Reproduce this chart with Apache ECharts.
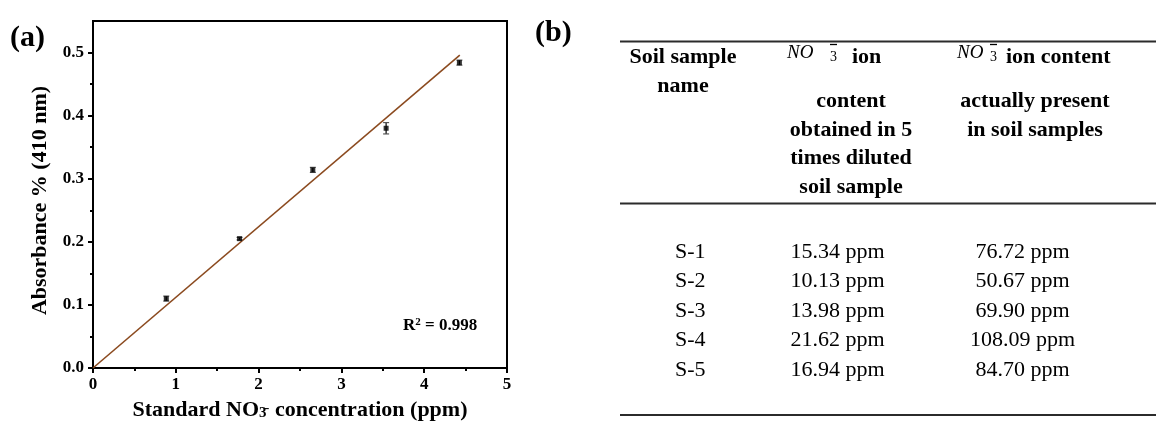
<!DOCTYPE html>
<html>
<head>
<meta charset="utf-8">
<script src="https://cdn.jsdelivr.net/npm/echarts@6/dist/echarts.min.js"></script>
<style>
  html, body { margin: 0; padding: 0; background: #fff; }
  #chart { width: 1156px; height: 426px; }
</style>
</head>
<body>
<div id="chart"></div>
<script>
// (a) calibration: standard nitrate concentration vs absorbance at 410 nm
const concentrations = [0.885, 1.77, 2.655, 3.54, 4.425];
const absorbance = [0.110, 0.205, 0.314, 0.380, 0.484];
const absorbanceErr = [0.004, 0.002, 0.004, 0.009, 0.004];
// linear fit through the origin, end points
const fitX = [0, 4.43];
const fitY = [0, 0.496];
const rSquared = '0.998';

const xTicks = [0, 1, 2, 3, 4, 5];
const yTicks = [0, 0.1, 0.2, 0.3, 0.4, 0.5];
const yMinorTicks = [0.05, 0.15, 0.25, 0.35, 0.45];

// (b) nitrate content of the soil samples
const sampleNames = ['S-1', 'S-2', 'S-3', 'S-4', 'S-5'];
const dilutedContent = [15.34, 10.13, 13.98, 21.62, 16.94];
const actualContent = [76.72, 50.67, 69.90, 108.09, 84.70];

const SERIF = 'Liberation Serif, Times New Roman, serif';
const chart = echarts.init(document.getElementById('chart'));

// ---- table (b) drawn as graphic text ----
const tableGraphics = [];
const ruleStyle = { stroke: '#2b2b2b', lineWidth: 2 };
[41.5, 203.5, 415].forEach(y => {
  tableGraphics.push({ type: 'line', shape: { x1: 620, y1: y, x2: 1156, y2: y }, style: ruleStyle, silent: true });
});
function headText(txt, x, y, align) {
  return { type: 'text', x: x, y: y, style: { text: txt, font: 'bold 22px ' + SERIF, fill: '#000', align: align || 'center', verticalAlign: 'middle' }, silent: true };
}
function bodyText(txt, x, y, align) {
  return { type: 'text', x: x, y: y, style: { text: txt, font: '22px ' + SERIF, fill: '#000', align: align || 'center', verticalAlign: 'middle' }, silent: true };
}
// nitrate symbol: italic NO followed by a subscript 3 with a bar over it
function nitrate(x, y, gap) {
  return [
    { type: 'text', x: x, y: y - 5, style: { text: 'NO', font: 'italic 19px ' + SERIF, fill: '#000', align: 'left', verticalAlign: 'middle' }, silent: true },
    { type: 'text', x: x + gap, y: y, style: { text: '3', font: '14px ' + SERIF, fill: '#000', align: 'left', verticalAlign: 'middle' }, silent: true },
    { type: 'line', shape: { x1: x + gap, y1: y - 13, x2: x + gap + 7, y2: y - 13 }, style: { stroke: '#000', lineWidth: 1.3 }, silent: true }
  ];
}
const line1 = 57.5, step = 28.5;
// column 1
tableGraphics.push(headText('Soil sample', 683, line1));
tableGraphics.push(headText('name', 683, line1 + step));
// column 2 (its first line is taller because of the formula)
tableGraphics.push(...nitrate(787, line1, 43));
tableGraphics.push(headText('ion', 852, line1, 'left'));
['content', 'obtained in 5', 'times diluted', 'soil sample'].forEach((t, i) => {
  tableGraphics.push(headText(t, 851, line1 + 44 + i * step));
});
// column 3
tableGraphics.push(...nitrate(957, line1, 33));
tableGraphics.push(headText('ion content', 1006, line1, 'left'));
['actually present', 'in soil samples'].forEach((t, i) => {
  tableGraphics.push(headText(t, 1035, line1 + 44 + i * step));
});

const bodyTop = 252, bodyStep = 29.5;
sampleNames.forEach((name, i) => {
  const y = bodyTop + i * bodyStep;
  tableGraphics.push(bodyText(name, 675, y, 'left'));
  tableGraphics.push(bodyText(dilutedContent[i].toFixed(2) + ' ppm', 837.5, y));
  tableGraphics.push(bodyText(actualContent[i].toFixed(2) + ' ppm', 1022.5, y));
});

const axisFont = { fontFamily: SERIF, fontWeight: 'bold', fontSize: 17, color: '#000' };

const option = {
  animation: false,
  backgroundColor: '#fff',
  grid: { left: 93, top: 21, width: 414, height: 348, show: true, borderColor: '#000', borderWidth: 2, backgroundColor: 'transparent' },
  xAxis: {
    type: 'value', min: 0, max: 5, interval: 1,
    name: 'Standard NO{sub|3\u0304} concentration (ppm)',
    nameLocation: 'middle', nameGap: 31,
    nameTextStyle: {
      fontFamily: SERIF, fontWeight: 'bold', fontSize: 22, color: '#000',
      rich: {
        sub: { fontFamily: SERIF, fontWeight: 'bold', fontSize: 15, color: '#000', verticalAlign: 'bottom', padding: [0, 3, 0, 0] }
      }
    },
    axisLine: { lineStyle: { color: '#000', width: 2 } },
    axisTick: { show: true, inside: false, length: 5, lineStyle: { color: '#000', width: 2 }, customValues: xTicks },
    minorTick: { show: true, splitNumber: 2, length: 3, lineStyle: { color: '#000', width: 2 } },
    axisLabel: Object.assign({ margin: 8, customValues: xTicks }, axisFont),
    splitLine: { show: false }, minorSplitLine: { show: false }
  },
  yAxis: [
    {
      type: 'value', min: 0, max: 0.55, interval: 0.05,
      name: 'Absorbance % (410 nm)', nameLocation: 'middle', nameGap: 42,
      nameTextStyle: { fontFamily: SERIF, fontWeight: 'bold', fontSize: 22, color: '#000', padding: [0, 12, 0, 0] },
      axisLine: { show: true, lineStyle: { color: '#000', width: 2 } },
      axisTick: { show: true, inside: false, length: 5, lineStyle: { color: '#000', width: 2 }, customValues: yTicks },
      axisLabel: Object.assign({ margin: 9, customValues: yTicks, formatter: v => v.toFixed(1) }, axisFont),
      splitLine: { show: false }
    },
    {
      type: 'value', min: 0, max: 0.55, interval: 0.05, position: 'left', offset: 0,
      axisLine: { show: false },
      axisTick: { show: true, inside: false, length: 3, lineStyle: { color: '#000', width: 2 }, customValues: yMinorTicks },
      axisLabel: { show: false },
      splitLine: { show: false }
    }
  ],
  graphic: [
    { type: 'text', left: 10, top: 23, style: { text: '(a)', font: 'bold 30px ' + SERIF, fill: '#000' }, silent: true },
    { type: 'text', left: 535, top: 18, style: { text: '(b)', font: 'bold 30px ' + SERIF, fill: '#000' }, silent: true },
    {
      type: 'text', left: 403, top: 317,
      style: {
        text: 'R{sup|2} = ' + rSquared,
        font: 'bold 17px ' + SERIF, fill: '#000',
        rich: {
          sup: { font: 'bold 11px ' + SERIF, fill: '#000', verticalAlign: 'top' }
        }
      },
      silent: true
    },
    ...tableGraphics
  ],
  series: [
    {
      name: 'fit', type: 'line', symbol: 'none', z: 2,
      data: fitX.map((x, i) => [x, fitY[i]]),
      lineStyle: { color: '#8b4a1f', width: 1.6 }
    },
    {
      name: 'error', type: 'custom', z: 3,
      data: concentrations.map((c, i) => [c, absorbance[i] - absorbanceErr[i], absorbance[i] + absorbanceErr[i]]),
      renderItem: (params, api) => {
        const x = api.value(0);
        const top = api.coord([x, api.value(2)]);
        const bot = api.coord([x, api.value(1)]);
        const w = 3;
        return {
          type: 'group',
          children: [
            { type: 'line', shape: { x1: top[0], y1: top[1], x2: bot[0], y2: bot[1] }, style: { stroke: '#000', lineWidth: 1.2 } },
            { type: 'line', shape: { x1: top[0] - w, y1: top[1], x2: top[0] + w, y2: top[1] }, style: { stroke: '#555', lineWidth: 1.2 } },
            { type: 'line', shape: { x1: bot[0] - w, y1: bot[1], x2: bot[0] + w, y2: bot[1] }, style: { stroke: '#555', lineWidth: 1.2 } }
          ]
        };
      }
    },
    {
      name: 'absorbance', type: 'scatter', symbol: 'rect', symbolSize: 5, z: 4,
      itemStyle: { color: '#000' },
      data: concentrations.map((c, i) => [c, absorbance[i]])
    }
  ]
};
chart.setOption(option);
</script>
</body>
</html>
